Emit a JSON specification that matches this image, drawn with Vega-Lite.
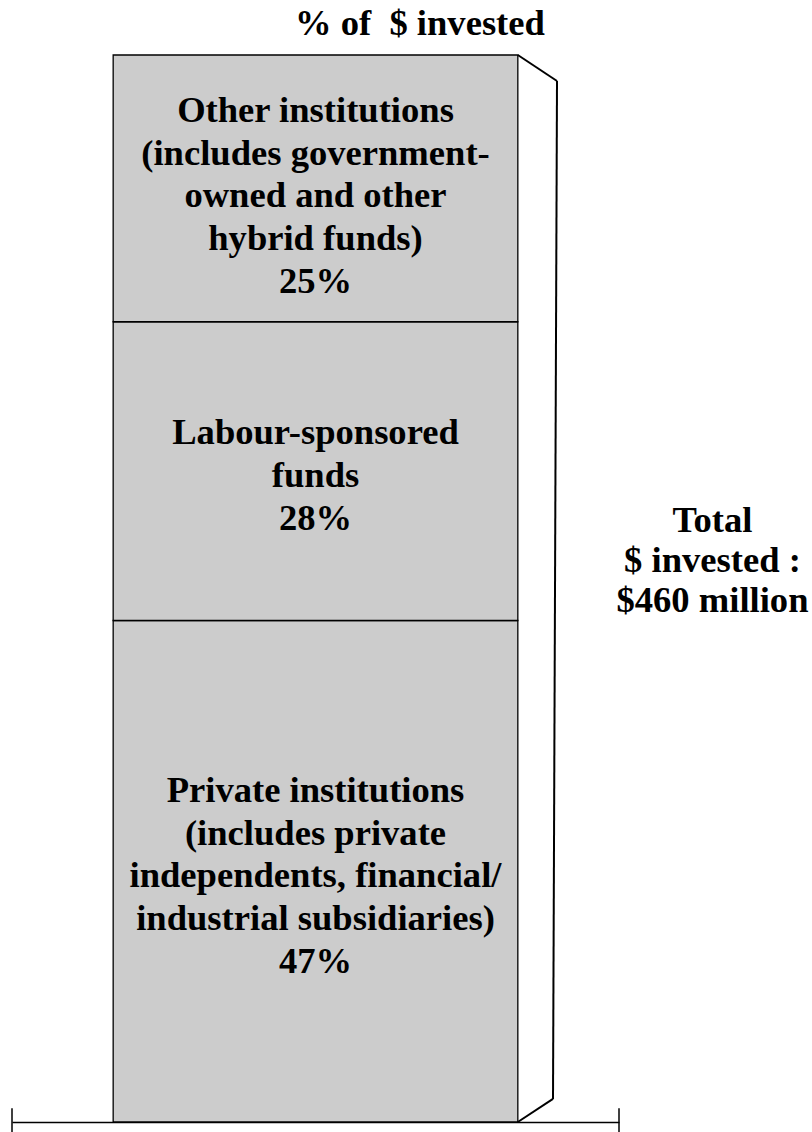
{
  "$schema": "https://vega.github.io/schema/vega-lite/v6.json",
  "width": 607,
  "height": 1067,
  "autosize": {"type": "none"},
  "padding": {"left": 12, "top": 55, "right": 193, "bottom": 10},
  "background": "white",
  "config": {
    "view": {"stroke": null},
    "text": {"font": "Liberation Serif", "fontSize": 36.6, "fontWeight": "bold", "color": "black", "align": "center", "baseline": "alphabetic", "lineBreak": "\n"}
  },
  "data": {
    "values": [
      {"segment": "Private institutions", "order": 1, "pct": 47, "label": "Private institutions\n(includes private\nindependents, financial/\nindustrial subsidiaries)\n47%"},
      {"segment": "Labour-sponsored funds", "order": 2, "pct": 28, "label": "Labour-sponsored\nfunds\n28%"},
      {"segment": "Other institutions", "order": 3, "pct": 25, "label": "Other institutions\n(includes government-\nowned and other\nhybrid funds)\n25%"}
    ]
  },
  "transform": [
    {"stack": "pct", "groupby": [], "sort": [{"field": "order", "order": "ascending"}], "as": ["y0", "y1"]}
  ],
  "layer": [
    {
      "mark": {"type": "rect", "fill": "#cccccc", "stroke": "black", "strokeWidth": 1.3},
      "encoding": {
        "x": {"datum": 0, "type": "quantitative",
              "scale": {"domain": [-0.25, 1.25], "nice": false, "zero": false},
              "axis": {"domain": true, "domainColor": "black", "domainWidth": 1.5, "ticks": false, "labels": false, "grid": false, "title": null}},
        "x2": {"datum": 1},
        "y": {"field": "y0", "type": "quantitative", "scale": {"domain": [0, 100], "nice": false, "zero": false}, "axis": null},
        "y2": {"field": "y1"}
      }
    },
    {
      "transform": [
        {"fold": ["y0", "y1"], "as": ["edge", "ypos"]},
        {"aggregate": [{"op": "mean", "field": "ypos", "as": "ymid"}], "groupby": ["label", "order"]}
      ],
      "layer": [
        {
          "transform": [{"filter": "datum.order == 3"}],
          "mark": {"type": "text", "lineHeight": 42.75, "dy": -66.5},
          "encoding": {
            "x": {"datum": 0.5, "type": "quantitative"},
            "y": {"field": "ymid", "type": "quantitative"},
            "text": {"field": "label"}
          }
        },
        {
          "transform": [{"filter": "datum.order == 2"}],
          "mark": {"type": "text", "lineHeight": 42.75, "dy": -27},
          "encoding": {
            "x": {"datum": 0.5, "type": "quantitative"},
            "y": {"field": "ymid", "type": "quantitative"},
            "text": {"field": "label"}
          }
        },
        {
          "transform": [{"filter": "datum.order == 1"}],
          "mark": {"type": "text", "lineHeight": 42.75, "dy": -69.5},
          "encoding": {
            "x": {"datum": 0.5, "type": "quantitative"},
            "y": {"field": "ymid", "type": "quantitative"},
            "text": {"field": "label"}
          }
        }
      ]
    },
    {
      "data": {"values": [{"note": "% of \u00a0$ invested"}]},
      "mark": {"type": "text"},
      "encoding": {
        "x": {"datum": 0.758, "type": "quantitative"},
        "y": {"datum": 101.87, "type": "quantitative"},
        "text": {"field": "note"}
      }
    },
    {
      "data": {"values": [{"note": "Total\n$ invested :\n$460 million"}]},
      "mark": {"type": "text", "lineHeight": 40},
      "encoding": {
        "x": {"datum": 1.481, "type": "quantitative"},
        "y": {"datum": 55.3, "type": "quantitative"},
        "text": {"field": "note"}
      }
    },
    {
      "data": {"values": [{}]},
      "mark": {"type": "rule", "color": "black", "strokeWidth": 2},
      "encoding": {"x": {"datum": 1}, "y": {"datum": 100}, "x2": {"datum": 1.0968}, "y2": {"datum": 97.56}}
    },
    {
      "data": {"values": [{}]},
      "mark": {"type": "rule", "color": "black", "strokeWidth": 2},
      "encoding": {"x": {"datum": 1.0968}, "y": {"datum": 97.56}, "x2": {"datum": 1.0869}, "y2": {"datum": 2.16}}
    },
    {
      "data": {"values": [{}]},
      "mark": {"type": "rule", "color": "black", "strokeWidth": 2},
      "encoding": {"x": {"datum": 1.0869}, "y": {"datum": 2.16}, "x2": {"datum": 1}, "y2": {"datum": 0}}
    },
    {
      "data": {"values": [{}]},
      "mark": {"type": "rule", "color": "black", "strokeWidth": 1.5},
      "encoding": {"x": {"datum": -0.25}, "y": {"datum": -2}, "y2": {"datum": 1.3}}
    },
    {
      "data": {"values": [{}]},
      "mark": {"type": "rule", "color": "black", "strokeWidth": 1.5},
      "encoding": {"x": {"datum": 1.25}, "y": {"datum": -2}, "y2": {"datum": 1.3}}
    }
  ]
}
